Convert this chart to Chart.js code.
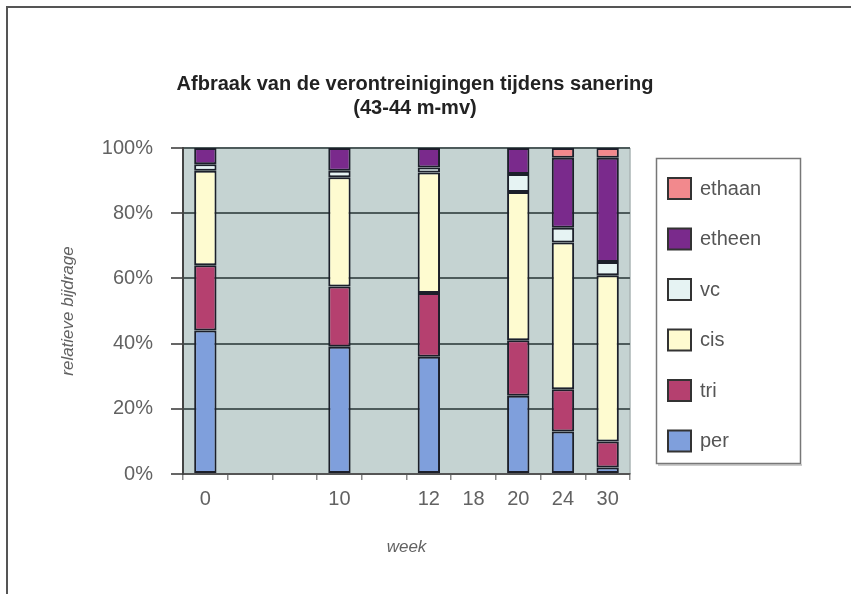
<!DOCTYPE html>
<html><head><meta charset="utf-8">
<script src="https://cdn.jsdelivr.net/npm/chart.js@4.4.1/dist/chart.umd.min.js"></script>
<style>html,body{margin:0;padding:0;background:#fff;}#wrap{width:851px;height:594px;position:relative;}</style>
</head><body><div id="wrap"><canvas id="c" width="851" height="594"></canvas></div>
<script>
const weeks  = ['0', '', '', '10', '', '12', '18', '20', '24', '30'];
const per    = [44,   null, null, 39,   null, 36,   null, 24,   13,   2];
const tri    = [20,   null, null, 18.5, null, 19.5, null, 17,   13,   8];
const cis    = [29,   null, null, 33.5, null, 37,   null, 45.5, 45,   51];
const vc     = [2,    null, null, 2,    null, 1.5,  null, 5.5,  4.5,  4];
const etheen = [5,    null, null, 7,    null, 6,    null, 8,    21.5, 32];
const ethaan = [0,    null, null, 0,    null, 0,    null, 0,    3,    3];
const yTicks = [0, 20, 40, 60, 80, 100];

const FONT = "'Liberation Sans', Arial, sans-serif";
const TXT = '#626262';

const series = [
  {label:'per', data:per, color:'#7f9fdc'},
  {label:'tri', data:tri, color:'#b5406f'},
  {label:'cis', data:cis, color:'#fefbd0'},
  {label:'vc', data:vc, color:'#e6f3f3'},
  {label:'etheen', data:etheen, color:'#7a2a8c'},
  {label:'ethaan', data:ethaan, color:'#f2898d'}
];

const decor = {
  id:'decor',
  beforeDraw(chart){
    const {ctx, chartArea:a} = chart;
    ctx.save();
    ctx.fillStyle = '#c5d3d2';
    ctx.fillRect(a.left, a.top, a.right - a.left, a.bottom - a.top);
    ctx.strokeStyle = '#aab4b4';
    ctx.lineWidth = 1.5;
    ctx.beginPath(); ctx.moveTo(a.right, a.top); ctx.lineTo(a.right, a.bottom); ctx.stroke();
    // outer frame
    ctx.strokeStyle = '#555';
    ctx.lineWidth = 2;
    ctx.beginPath(); ctx.moveTo(7, 594); ctx.lineTo(7, 7); ctx.lineTo(851, 7); ctx.stroke();
    // title
    ctx.fillStyle = '#222';
    ctx.font = 'bold 20px ' + FONT;
    ctx.textAlign = 'center';
    ctx.textBaseline = 'middle';
    ctx.fillText('Afbraak van de verontreinigingen tijdens sanering', 415, 84);
    ctx.fillText('(43-44 m-mv)', 415, 108);
    ctx.restore();
  },
  afterDraw(chart){
    const ctx = chart.ctx;
    ctx.save();
    // legend box with shadow
    ctx.strokeStyle = '#ccc';
    ctx.lineWidth = 2;
    ctx.beginPath(); ctx.moveTo(658, 465); ctx.lineTo(802, 465); ctx.stroke();
    ctx.strokeStyle = '#777';
    ctx.lineWidth = 1.5;
    ctx.strokeRect(656.5, 158.5, 144, 305);
    const ds = chart.data.datasets.slice().reverse();
    ds.forEach((d, i) => {
      const cy = 188 + i * 50.5;
      ctx.fillStyle = d.backgroundColor;
      ctx.fillRect(668, cy - 10, 23, 21);
      ctx.strokeStyle = '#333';
      ctx.lineWidth = 2;
      ctx.strokeRect(668, cy - 10, 23, 21);
      ctx.fillStyle = '#555';
      ctx.font = '20px ' + FONT;
      ctx.textAlign = 'left';
      ctx.textBaseline = 'middle';
      ctx.fillText(d.label, 700, cy + 1);
    });
    ctx.restore();
  }
};

new Chart(document.getElementById('c'), {
  type:'bar',
  data:{
    labels: weeks,
    datasets: series.map(s => ({
      label: s.label, data: s.data, backgroundColor: s.color,
      borderColor:'#1c1f2a', borderWidth:2, borderSkipped:false,
      barPercentage:0.5, categoryPercentage:1
    }))
  },
  options:{
    responsive:false, animation:false, devicePixelRatio:1,
    layout:{padding:{left:8, right:221, top:148, bottom:33}},
    plugins:{legend:{display:false}, title:{display:false}, tooltip:{enabled:false}},
    scales:{
      x:{
        stacked:true,
        grid:{drawOnChartArea:false, drawTicks:true, tickLength:6, color:'#888', lineWidth:1.5},
        border:{display:true, color:'#555', width:2},
        ticks:{font:{family:FONT, size:20}, color:TXT, padding:7, autoSkip:false, maxRotation:0},
        title:{display:true, text:'week', color:TXT, font:{family:FONT, size:17, style:'italic'}, padding:{top:0, bottom:4}},
        afterFit(s){ s.height = 87; }
      },
      y:{
        stacked:true, min:0, max:100,
        afterBuildTicks(s){ s.ticks = yTicks.map(v => ({value:v})); },
        ticks:{font:{family:FONT, size:20}, color:TXT, padding:18, callback:v => v + '%'},
        grid:{color:'#4d5b5b', lineWidth:2, tickLength:12, tickColor:'#666'},
        border:{display:true, color:'#444', width:2},
        title:{display:true, text:'relatieve bijdrage', color:TXT, font:{family:FONT, size:17, style:'italic'}, padding:{top:50}},
        afterFit(s){ s.width = 175; }
      }
    }
  },
  plugins:[decor]
});
</script>
</body></html>
